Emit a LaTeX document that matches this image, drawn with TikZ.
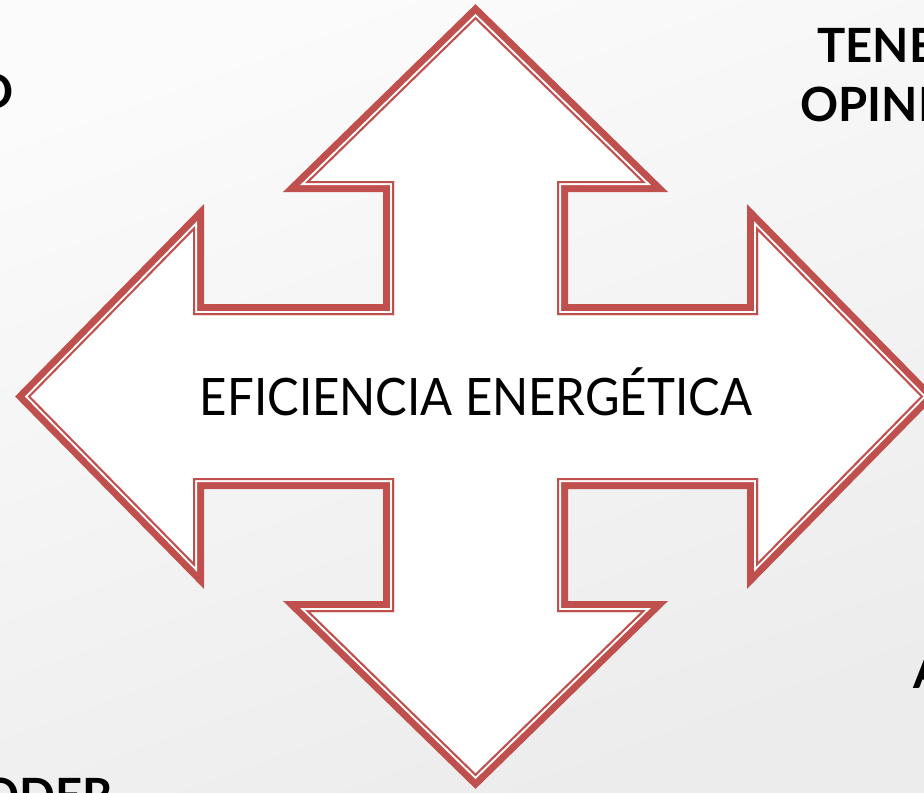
\documentclass[tikz,border=0pt]{standalone}
\usepackage{fontspec}
\setmainfont{Lato}
\definecolor{accentred}{HTML}{C0504D}
\definecolor{bglight}{HTML}{FBFBFB}
\definecolor{bgdark}{HTML}{ECECEC}

% outline of the four-way arrow (inner edge of the border)
\newcommand{\crossoutline}{(475.5,19.5) -- (641,181) -- (557,181) -- (557,315)
  -- (758,315) -- (758,231) -- (920.5,396.5) -- (758,562) -- (758,478)
  -- (557,478) -- (557,612) -- (641,612) -- (475.5,773.5) -- (310,612)
  -- (394,612) -- (394,478) -- (193,478) -- (193,562) -- (30.5,396.5)
  -- (193,231) -- (193,315) -- (394,315) -- (394,181) -- (310,181) -- cycle}

\begin{document}
\begin{tikzpicture}[
  x=0.5pt, y=-0.5pt,
  border/.style={draw=accentred, line join=miter, miter limit=10},
  gap/.style={draw=white, line join=miter, miter limit=10},
  sidelabel/.style={font=\fontsize{23.6}{28}\selectfont\bfseries, inner sep=0pt},
  maintext/.style={font=\fontsize{25.8}{30}\selectfont, inner sep=0pt}
]
\useasboundingbox (0,0) rectangle (924,792);
\clip (0,0) rectangle (924,792);
\shade[top color=bglight, bottom color=bgdark, shading angle=20] (0,0) rectangle (924,792);

% arrow body
\fill[white] \crossoutline;
\begin{scope}[even odd rule]
  \clip (-100,-100) -- (-100,900) -- (1100,900) -- (1100,-100) -- cycle \crossoutline;
  \path[border, line width=11pt] \crossoutline;
  \path[gap, line width=4pt] \crossoutline;
  \path[border, line width=2pt] \crossoutline;
\end{scope}

\node[maintext, anchor=base] (title) at (476,415)
  {\resizebox{276pt}{\height}{EFICIENCIA ENERGÉTICA}};

% words cut by the page edge
\node[sidelabel, anchor=base east] (leftword) at (14,108) {O};
\node[sidelabel, anchor=base west] (tener) at (817,63) {TENE};
\node[sidelabel, anchor=base west] (opinion) at (800,121) {OPINI};
\node[sidelabel, anchor=base west] (rightword) at (913,688) {A};
\node[sidelabel, anchor=base east] (poder) at (113,812) {ODER};
\end{tikzpicture}
\end{document}
